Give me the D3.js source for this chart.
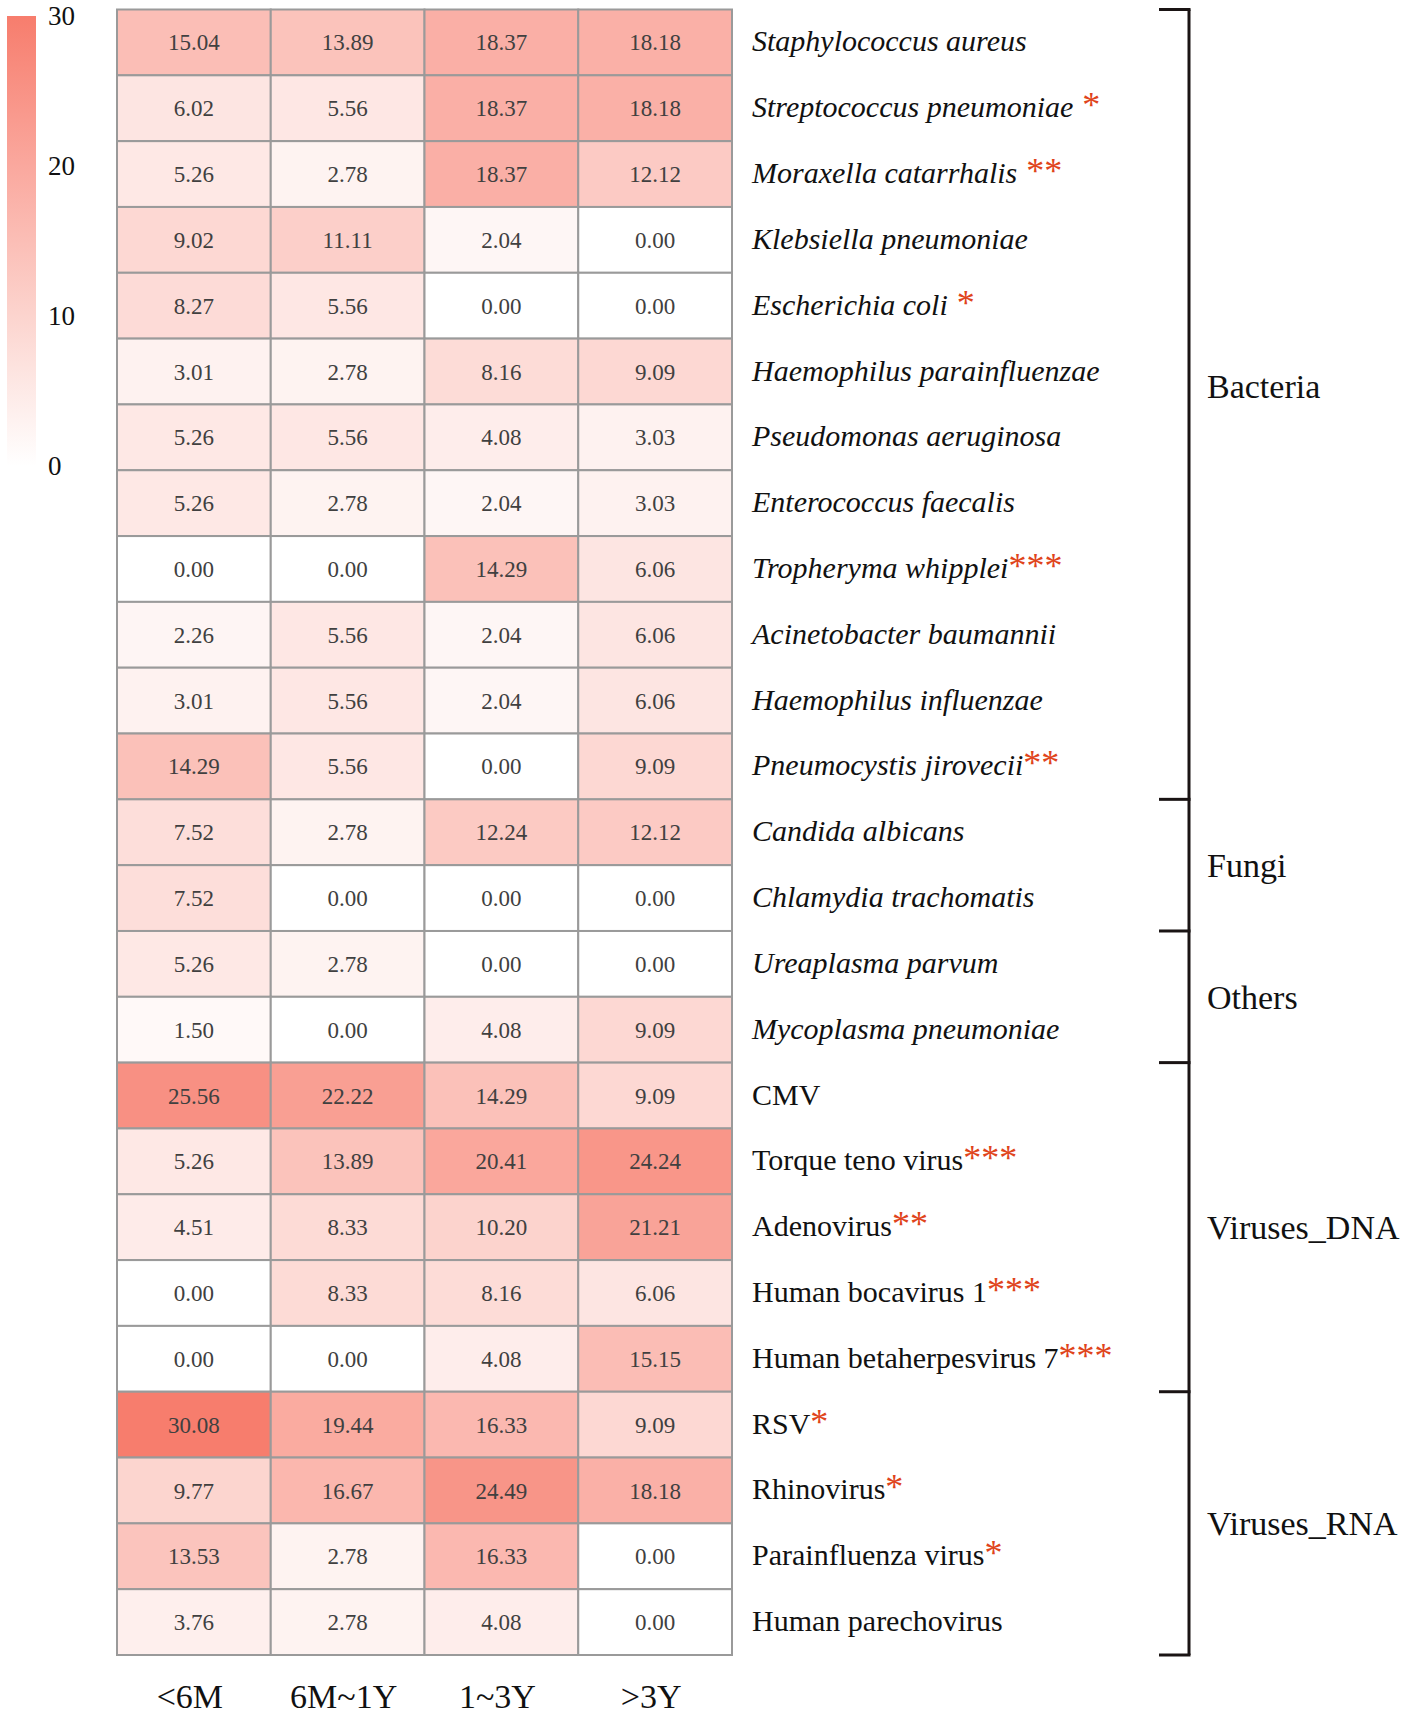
<!DOCTYPE html>
<html>
<head>
<meta charset="utf-8">
<script src="https://cdn.jsdelivr.net/npm/d3@7"></script>
<style>
  body { margin: 0; background: #fff; }
  svg { display: block; font-family: "Liberation Serif", "Times New Roman", serif; }
</style>
</head>
<body>
<svg id="chart" width="1418" height="1717"></svg>
<script>
// row labels, significance marks and groups
const taxa = [
  "Staphylococcus aureus", "Streptococcus pneumoniae", "Moraxella catarrhalis",
  "Klebsiella pneumoniae", "Escherichia coli", "Haemophilus parainfluenzae",
  "Pseudomonas aeruginosa", "Enterococcus faecalis", "Tropheryma whipplei",
  "Acinetobacter baumannii", "Haemophilus influenzae", "Pneumocystis jirovecii",
  "Candida albicans", "Chlamydia trachomatis", "Ureaplasma parvum",
  "Mycoplasma pneumoniae", "CMV", "Torque teno virus", "Adenovirus",
  "Human bocavirus 1", "Human betaherpesvirus 7", "RSV", "Rhinovirus",
  "Parainfluenza virus", "Human parechovirus"
];
const sigMarks = [
  "", " *", " **", "", " *", "", "", "", "***", "", "", "**",
  "", "", "", "", "", "***", "**", "***", "***", "*", "*", "*", ""
];
const italicRows = 16; // first 16 rows are species names in italics

const groupNames = ["Bacteria", "Fungi", "Others", "Viruses_DNA", "Viruses_RNA"];
const groupSizes = [12, 2, 2, 5, 4];

const ageGroups = ["<6M", "6M~1Y", "1~3Y", ">3Y"];

// detection rate (%) per age group, one value per row
const lt6M   = [15.04, 6.02, 5.26, 9.02, 8.27, 3.01, 5.26, 5.26, 0.00, 2.26, 3.01, 14.29,
                7.52, 7.52, 5.26, 1.50, 25.56, 5.26, 4.51, 0.00, 0.00, 30.08, 9.77, 13.53, 3.76];
const m6to1Y = [13.89, 5.56, 2.78, 11.11, 5.56, 2.78, 5.56, 2.78, 0.00, 5.56, 5.56, 5.56,
                2.78, 0.00, 2.78, 0.00, 22.22, 13.89, 8.33, 8.33, 0.00, 19.44, 16.67, 2.78, 2.78];
const y1to3  = [18.37, 18.37, 18.37, 2.04, 0.00, 8.16, 4.08, 2.04, 14.29, 2.04, 2.04, 0.00,
                12.24, 0.00, 0.00, 4.08, 14.29, 20.41, 10.20, 8.16, 4.08, 16.33, 24.49, 16.33, 4.08];
const gt3Y   = [18.18, 18.18, 12.12, 0.00, 0.00, 9.09, 3.03, 3.03, 6.06, 6.06, 6.06, 9.09,
                12.12, 0.00, 0.00, 9.09, 9.09, 24.24, 21.21, 6.06, 15.15, 9.09, 18.18, 0.00, 0.00];

const legendTicks = [0, 10, 20, 30];

const columns = [lt6M, m6to1Y, y1to3, gt3Y];
const cells = [];
taxa.forEach((t, r) => {
  ageGroups.forEach((a, c) => cells.push({ taxon: t, age: a, value: columns[c][r] }));
});

const svg = d3.select("#chart");

const x = d3.scaleBand().domain(ageGroups).range([117, 732]);
const y = d3.scaleBand().domain(taxa).range([9.5, 1655]);
const color = d3.scaleLinear().domain([0, 30]).range(["#ffffff", "#f77d6d"]);

// heatmap cells
svg.append("g")
  .selectAll("rect")
  .data(cells)
  .join("rect")
  .attr("x", d => x(d.age))
  .attr("y", d => y(d.taxon))
  .attr("width", x.bandwidth())
  .attr("height", y.bandwidth())
  .attr("fill", d => color(d.value))
  .attr("stroke", "#9a9a9a")
  .attr("stroke-width", 2);

svg.append("g")
  .selectAll("text")
  .data(cells)
  .join("text")
  .attr("x", d => x(d.age) + x.bandwidth() / 2)
  .attr("y", d => y(d.taxon) + y.bandwidth() / 2)
  .attr("dy", "0.35em")
  .attr("text-anchor", "middle")
  .attr("font-size", 23)
  .attr("fill", "#404040")
  .text(d => d.value.toFixed(2));

// row labels with significance stars
const rowLabels = svg.append("g")
  .selectAll("text")
  .data(taxa)
  .join("text")
  .attr("x", 752)
  .attr("y", d => y(d) + y.bandwidth() / 2)
  .attr("dy", "0.3em")
  .attr("font-size", 30)
  .attr("fill", "#111");
rowLabels.append("tspan")
  .attr("font-style", (d, i) => i < italicRows ? "italic" : "normal")
  .text(d => d);
rowLabels.append("tspan")
  .attr("fill", "#e0441b")
  .attr("font-size", 36)
  .style("white-space", "pre")
  .text((d, i) => sigMarks[i]);

// group brackets
const bracketX = 1189;
let start = 0;
const groups = groupNames.map((name, i) => {
  const g = { name, first: taxa[start], last: taxa[start + groupSizes[i] - 1] };
  start += groupSizes[i];
  return g;
});
const bracket = svg.append("g").attr("stroke", "#1a1414").attr("stroke-width", 3).attr("fill", "none");
bracket.append("line")
  .attr("x1", bracketX).attr("x2", bracketX)
  .attr("y1", y.range()[0]).attr("y2", y.range()[1]);
const boundaries = [y(groups[0].first)].concat(groups.map(g => y(g.last) + y.bandwidth()));
bracket.selectAll("path.tick")
  .data(boundaries)
  .join("line")
  .attr("x1", bracketX - 30).attr("x2", bracketX + 1.5)
  .attr("y1", d => d).attr("y2", d => d);

// the Bacteria label sits a little above its bracket middle in the original
const labelNudge = { Bacteria: -18 };
svg.append("g")
  .selectAll("text")
  .data(groups)
  .join("text")
  .attr("x", 1207)
  .attr("y", d => (y(d.first) + y(d.last) + y.bandwidth()) / 2 + (labelNudge[d.name] || 0))
  .attr("dy", "0.35em")
  .attr("font-size", 34)
  .attr("fill", "#111")
  .text(d => d.name);

// x axis labels
const xAxis = svg.append("g")
  .attr("transform", "translate(0,1708)")
  .call(d3.axisBottom(x).tickSize(0).tickPadding(0));
xAxis.select(".domain").remove();
xAxis.selectAll("text")
  .attr("y", 0).attr("dy", 0)
  .attr("dx", -4)
  .attr("font-size", 34)
  .attr("font-family", "Liberation Serif, serif")
  .attr("fill", "#111");

// colour legend
const legendScale = d3.scaleLinear().domain([0, 30]).range([466, 16]);
const defs = svg.append("defs");
const grad = defs.append("linearGradient")
  .attr("id", "legend-grad")
  .attr("x1", 0).attr("y1", 1).attr("x2", 0).attr("y2", 0);
grad.selectAll("stop")
  .data(legendTicks)
  .join("stop")
  .attr("offset", d => d / 30)
  .attr("stop-color", d => color(d));
svg.append("rect")
  .attr("x", 7)
  .attr("y", legendScale(30))
  .attr("width", 29)
  .attr("height", legendScale(0) - legendScale(30))
  .attr("fill", "url(#legend-grad)");
const legendAxis = svg.append("g")
  .attr("transform", "translate(36,0)")
  .call(d3.axisRight(legendScale).tickValues(legendTicks).tickSize(0).tickPadding(12));
legendAxis.select(".domain").remove();
legendAxis.selectAll("text")
  .attr("font-size", 27)
  .attr("font-family", "Liberation Serif, serif")
  .attr("fill", "#111");
</script>
</body>
</html>
